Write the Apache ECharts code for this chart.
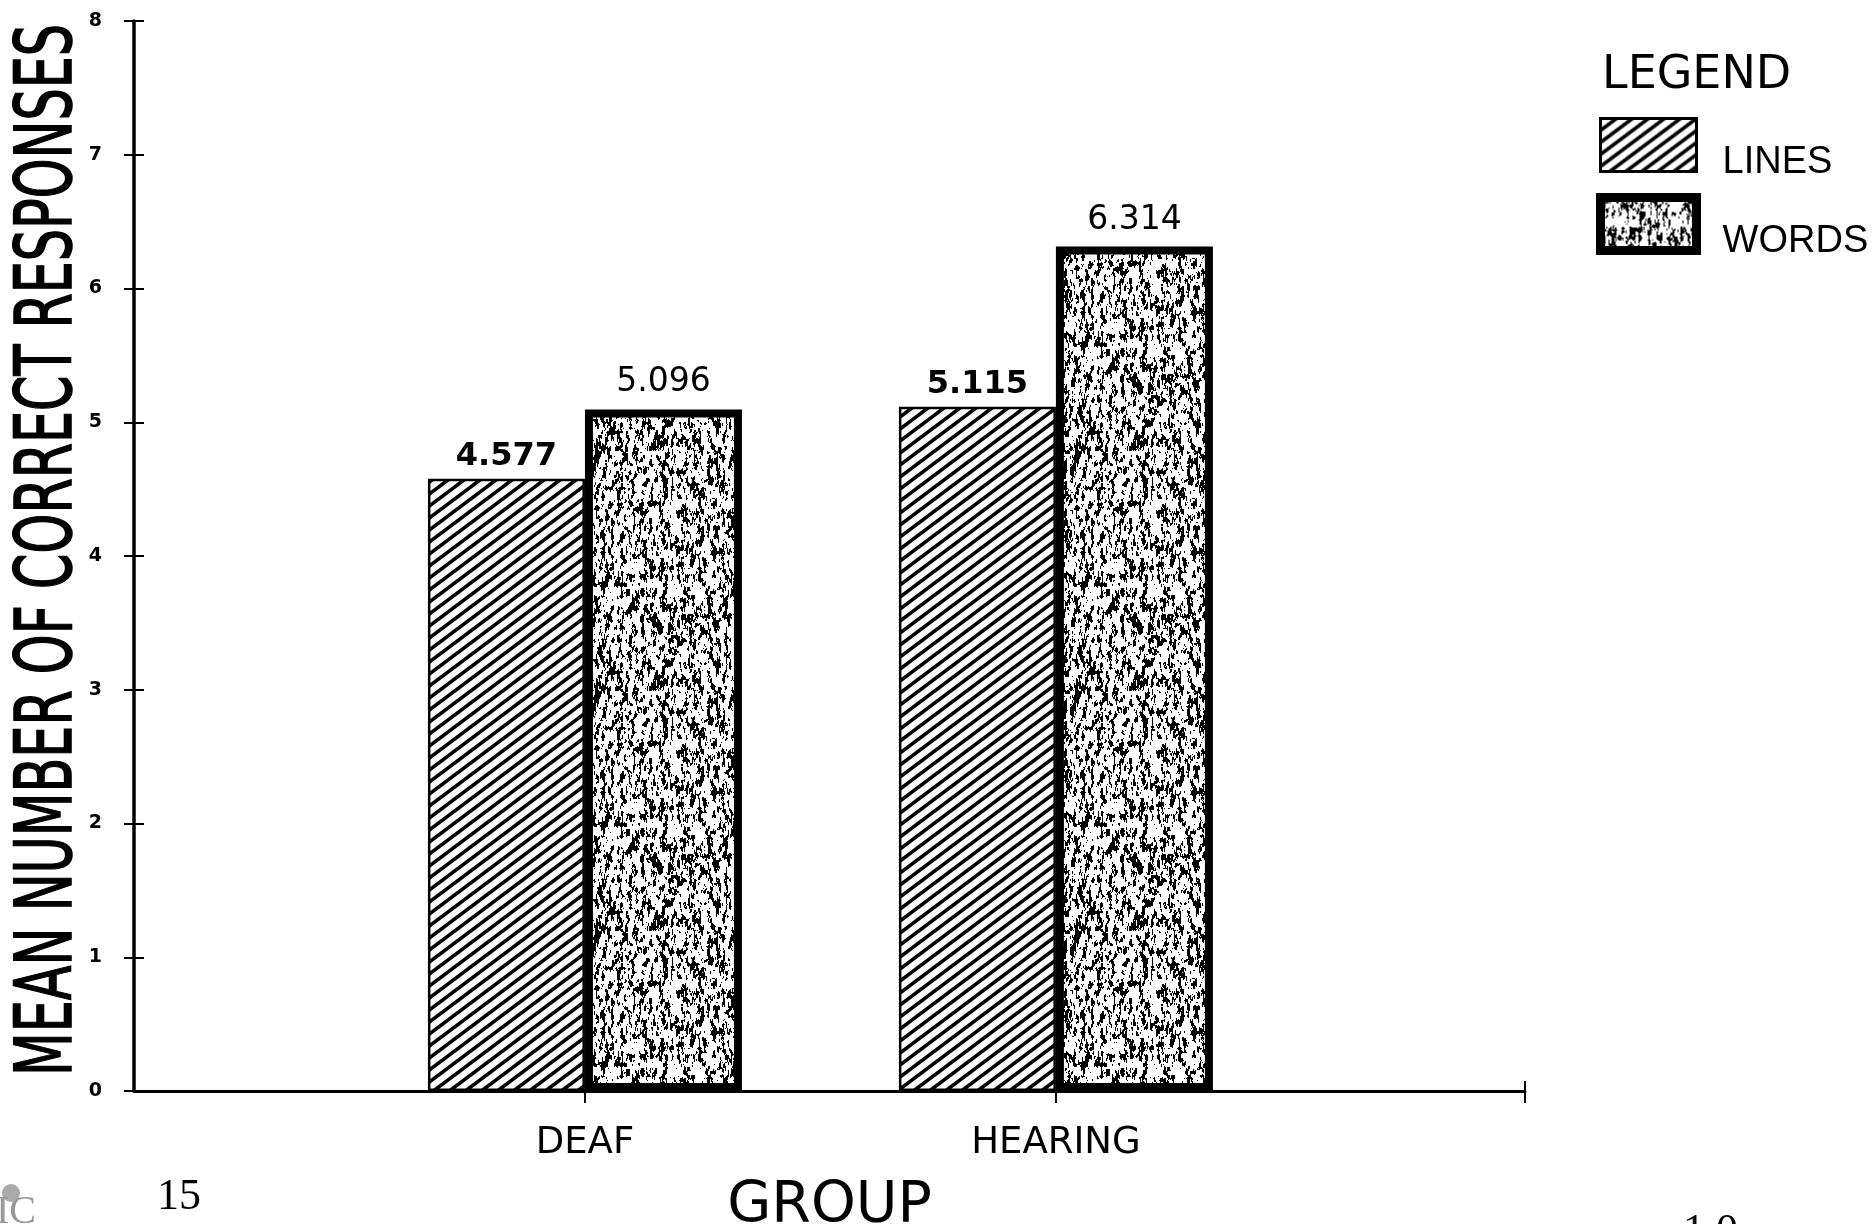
<!DOCTYPE html>
<html>
<head>
<meta charset="utf-8">
<script src="https://cdn.jsdelivr.net/npm/echarts@6/dist/echarts.min.js"></script>
<style>
html,body{margin:0;padding:0;background:#fff;}
#chart{width:1875px;height:1224px;}
</style>
</head>
<body>
<div id="chart"></div>
<script>
// ---- data ----
const groups = ['DEAF', 'HEARING'];
const groupPos = [1, 2];
const seriesNames = ['LINES', 'WORDS'];
const linesValues = [4.577, 5.115];
const wordsValues = [5.096, 6.314];
const yMin = 0, yMax = 8, yStep = 1;
const yTitle = 'MEAN NUMBER OF CORRECT RESPONSES';
const xTitle = 'GROUP';
const legendTitle = 'LEGEND';

// x axis extent (axis drawn slightly off-centre in the original)
const xMin = 0.0425, xMax = 2.996;

// ---- fill patterns (styling only) ----
function makeHatch() {
  const w = 16, h = 12;
  const c = document.createElement('canvas');
  c.width = w; c.height = h;
  const g = c.getContext('2d');
  g.fillStyle = '#fff'; g.fillRect(0, 0, w, h);
  g.strokeStyle = '#000'; g.lineWidth = 3.6; g.lineCap = 'butt';
  for (let k = -1; k <= 1; k++) {
    g.beginPath();
    g.moveTo(-w, 2 * h + k * h);
    g.lineTo(2 * w, -h + k * h);
    g.stroke();
  }
  return c;
}
function hash(x, y, s) {
  let n = (Math.imul(x, 374761393) + Math.imul(y, 668265263) + Math.imul(s, 982451653)) | 0;
  n = Math.imul(n ^ (n >>> 13), 1274126177);
  n = Math.imul(n ^ (n >>> 15), 668265263);
  n ^= n >>> 16;
  return (n >>> 0) / 4294967296;
}
function vnoise(x, y, cx, cy, gw, gh, s) {
  const fx = x / cx, fy = y / cy;
  const ix = Math.floor(fx), iy = Math.floor(fy);
  let tx = fx - ix, ty = fy - iy;
  tx = tx * tx * (3 - 2 * tx); ty = ty * ty * (3 - 2 * ty);
  const x0 = ix % gw, x1 = (ix + 1) % gw, y0 = iy % gh, y1 = (iy + 1) % gh;
  const a = hash(x0, y0, s), b = hash(x1, y0, s), c = hash(x0, y1, s), d = hash(x1, y1, s);
  return (a * (1 - tx) + b * tx) * (1 - ty) + (c * (1 - tx) + d * tx) * ty;
}
function makeSpeckle() {
  const W = 240, H = 240;
  const c = document.createElement('canvas');
  c.width = W; c.height = H;
  const g = c.getContext('2d');
  const img = g.createImageData(W, H);
  for (let y = 0; y < H; y++) {
    for (let x = 0; x < W; x++) {
      const n = 0.40 * vnoise(x, y, 3, 8, W / 3, H / 8, 11)
              + 0.35 * vnoise(x, y, 2, 4, W / 2, H / 4, 23)
              + 0.25 * vnoise(x, y, 1, 2, W, H / 2, 37);
      const v = n < 0.45 ? 0 : 255;
      const i = (y * W + x) * 4;
      img.data[i] = v; img.data[i + 1] = v; img.data[i + 2] = v; img.data[i + 3] = 255;
    }
  }
  g.putImageData(img, 0, 0);
  return c;
}
const hatchFill = { image: makeHatch(), repeat: 'repeat' };
const speckleFill = { image: makeSpeckle(), repeat: 'repeat' };

// ---- helpers ----
const FONT = 'DejaVu Sans';
const LFONT = 'Liberation Sans';
const pts = vals => vals.map((v, i) => [groupPos[i], v]);

// fit rotated y title length
const titleLen = 1052, titleSize = 78;
const mctx = document.createElement('canvas').getContext('2d');
mctx.font = titleSize + 'px "' + FONT + '"';
const titleScale = titleLen / mctx.measureText(yTitle).width;

const chart = echarts.init(document.getElementById('chart'), null, { renderer: 'canvas' });
const labelFmt = p => (p.value == null ? '' : Number(p.value[1]).toFixed(3));

chart.setOption({
  backgroundColor: '#fff',
  animation: false,
  title: {
    text: legendTitle,
    left: 1597, top: 48,
    textStyle: { fontSize: 46, fontWeight: 'normal', fontFamily: FONT, color: '#000' }
  },
  legend: {
    orient: 'vertical',
    left: 1596, top: 108,
    padding: 0,
    icon: 'rect',
    itemWidth: 96, itemHeight: 53,
    itemGap: 5,
    formatter: name => '\n  ' + name,
    textStyle: { fontSize: 38, lineHeight: 36, fontFamily: LFONT, color: '#000' },
    data: [
      { name: seriesNames[0], itemStyle: { borderWidth: 3, borderColor: '#000' } },
      { name: seriesNames[1], itemStyle: { borderWidth: 9, borderColor: '#000' } }
    ]
  },
  grid: { left: 134, right: 350, top: 21, bottom: 133, containLabel: false, outerBoundsMode: 'none' },
  xAxis: [
    {
      type: 'value',
      min: xMin, max: xMax,
      name: xTitle,
      nameLocation: 'middle',
      nameGap: 88,
      nameTextStyle: { fontSize: 57, fontFamily: FONT, color: '#000' },
      axisLine: { show: true, lineStyle: { color: '#000', width: 3 } },
      axisTick: { show: true, length: 12, customValues: groupPos.concat([xMax]),
                  lineStyle: { color: '#000', width: 2 } },
      axisLabel: { show: true, margin: 34, fontSize: 37, fontFamily: FONT, color: '#000',
                   customValues: groupPos,
                   formatter: v => groups[groupPos.indexOf(Math.round(v))] || '' },
      splitLine: { show: false }
    },
    {
      type: 'value',
      position: 'bottom',
      min: xMin, max: xMax,
      axisLine: { show: false },
      axisTick: { show: true, inside: true, length: 10, customValues: [xMax],
                  lineStyle: { color: '#000', width: 2 } },
      axisLabel: { show: false },
      splitLine: { show: false }
    }
  ],
  yAxis: [
    {
      type: 'value',
      min: yMin, max: yMax, interval: yStep,
      axisLine: { show: true, lineStyle: { color: '#000', width: 3.5 } },
      axisTick: { show: true, length: 10, lineStyle: { color: '#000', width: 2 } },
      axisLabel: { margin: 32, fontSize: 19, fontWeight: 'bold', fontFamily: FONT, color: '#000' },
      splitLine: { show: false }
    },
    {
      type: 'value',
      position: 'left',
      min: yMin, max: yMax, interval: yStep,
      axisLine: { show: false },
      axisTick: { show: true, inside: true, length: 10, lineStyle: { color: '#000', width: 2 } },
      axisLabel: { show: false },
      splitLine: { show: false }
    }
  ],
  series: [
    {
      name: seriesNames[0],
      type: 'bar',
      data: pts(linesValues),
      barWidth: 157,
      barGap: '0%',
      itemStyle: { color: hatchFill, borderColor: '#000', borderWidth: 2.5 },
      label: { show: true, position: 'top', distance: 6, formatter: labelFmt,
               fontSize: 32, fontWeight: 'bold', fontFamily: FONT, color: '#000' },
      emphasis: { disabled: true }
    },
    {
      name: seriesNames[1],
      type: 'bar',
      data: pts(wordsValues),
      barWidth: 157,
      barGap: '0%',
      itemStyle: { color: speckleFill, borderColor: '#000', borderWidth: 8 },
      label: { show: true, position: 'top', distance: 10, formatter: labelFmt,
               fontSize: 33, fontWeight: 'normal', fontFamily: FONT, color: '#000' },
      emphasis: { disabled: true }
    }
  ],
  graphic: [
    {
      type: 'text',
      x: 51, y: 550,
      rotation: Math.PI / 2,
      scaleX: titleScale,
      style: { text: yTitle, font: titleSize + 'px "' + FONT + '"',
               fill: '#000', stroke: '#000', lineWidth: 1.6,
               align: 'center', verticalAlign: 'middle' }
    },
    {
      type: 'text', x: 157, y: 1175,
      style: { text: '15', font: '44px "Liberation Serif"', fill: '#000' }
    },
    {
      type: 'text', x: 1683, y: 1210,
      style: { text: '1 0', font: '44px "Liberation Serif"', fill: '#000' }
    },
    {
      type: 'circle', shape: { cx: 11, cy: 1193, r: 9 },
      style: { fill: '#aaa' }
    },
    {
      type: 'text', x: -4, y: 1192,
      style: { text: 'IC', font: '40px "Liberation Serif"', fill: '#999' }
    }
  ]
});
</script>
</body>
</html>
